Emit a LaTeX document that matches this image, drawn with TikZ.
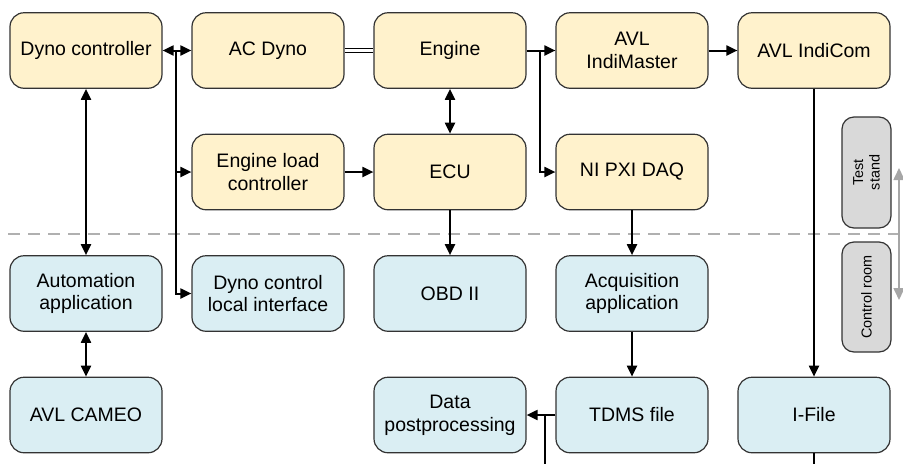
\documentclass[tikz,border=0pt]{standalone}
\usepackage{fontspec}
\setmainfont{Liberation Sans}
\usetikzlibrary{arrows.meta}
\definecolor{yfill}{HTML}{FFF2CC}
\definecolor{bfill}{HTML}{DAEEF3}
\definecolor{gfill}{HTML}{D9D9D9}
\definecolor{bord}{HTML}{333333}
\definecolor{dashc}{HTML}{B0B0B0}
\definecolor{garr}{HTML}{A6A6A6}
\tikzset{
  box/.style={draw=bord, line width=1.2pt, rounded corners=14pt, minimum width=152pt, minimum height=75.5pt,
    align=center, font=\fontsize{19.5}{22.7}\selectfont, inner sep=0pt},
  ybox/.style={box, fill=yfill},
  bbox/.style={box, fill=bfill},
  sidebox/.style={draw=bord, line width=1.2pt, fill=gfill, rounded corners=12pt, rotate=90,
    minimum height=49pt, align=center, font=\fontsize{14.4}{16.5}\selectfont, inner sep=0pt},
  conn/.style={line width=2pt, black},
  arr/.style={conn, -{Triangle[length=11pt,width=10pt]}},
  darr/.style={conn, {Triangle[length=11pt,width=10pt]}-{Triangle[length=11pt,width=10pt]}},
}
\begin{document}
\begin{tikzpicture}[x=1pt,y=-1pt]
\useasboundingbox (0,0) rectangle (903,464);
% boundary line
\coordinate (dl) at (8,234);
\coordinate (dr) at (899,234);
\draw[dashc, line width=2pt, dash pattern=on 12pt off 8pt] (dl) -- (dr);
% top row
\node[ybox] (dc) at (86,50.5) {Dyno controller};
\node[ybox] (acd) at (268,50.5) {AC Dyno};
\node[ybox] (eng) at (450,50.5) {Engine};
\node[ybox] (indm) at (632,50.5) {AVL\\IndiMaster};
\node[ybox] (indc) at (814,50.5) {AVL IndiCom};
% second row
\node[ybox] (elc) at (268,172) {Engine load\\controller};
\node[ybox] (ecu) at (450,172) {ECU};
\node[ybox] (pxi) at (632,172) {NI PXI DAQ};
% third row
\node[bbox] (aut) at (86,293.5) {Automation\\application};
\node[bbox] (dcli) at (268,293.5) {Dyno control\\local interface};
\node[bbox] (obd) at (450,293.5) {OBD II};
\node[bbox] (acq) at (632,293.5) {Acquisition\\application};
% fourth row
\node[bbox] (cameo) at (86,415) {AVL CAMEO};
\node[bbox] (dpp) at (450,415) {Data\\postprocessing};
\node[bbox] (tdms) at (632,415) {TDMS file};
\node[bbox] (ifile) at (814,415) {I-File};
% side boxes
\node[sidebox, minimum width=111pt] (ts) at (866.5,172.5) {Test\\stand};
\node[sidebox, minimum width=110pt] (cr) at (866.5,297) {Control room};
\coordinate (ga) at (899,168);
\coordinate (gb) at (899,300);
\draw[garr, line width=1.6pt, {Triangle[length=12pt,width=11pt]}-{Triangle[length=12pt,width=11pt]}] (ga) -- (gb);
% connectors
\coordinate (j1) at (176,50.5);
\draw[arr] (j1) -- (dc.east);
\draw[arr] (j1) -- (acd.west);
\draw[arr] (j1) |- (elc.west);
\draw[arr] (j1) |- (dcli.west);
\draw[line width=1.3pt, double=white, double distance=2.2pt] (acd.east) -- (eng.west);
\draw[darr] (eng.south) -- (ecu.north);
\coordinate (j2) at (540,50.5);
\draw[conn] (eng.east) -- (j2);
\draw[arr] (j2) -- (indm.west);
\draw[arr] (j2) |- (pxi.west);
\draw[arr] (indm.east) -- (indc.west);
\draw[arr] (elc.east) -- (ecu.west);
\draw[darr] (dc.south) -- (aut.north);
\draw[arr] (ecu.south) -- (obd.north);
\draw[arr] (pxi.south) -- (acq.north);
\draw[arr] (acq.south) -- (tdms.north);
\draw[arr] (indc.south) -- (ifile.north);
\draw[darr] (aut.south) -- (cameo.north);
\draw[arr] (tdms.west) -- (dpp.east);
\coordinate (j3) at (545,415);
\coordinate (b1) at (545,464);
\draw[conn] (j3) -- (b1);
\coordinate (b2) at (814,464);
\draw[conn] (ifile.south) -- (b2);
\end{tikzpicture}
\end{document}
